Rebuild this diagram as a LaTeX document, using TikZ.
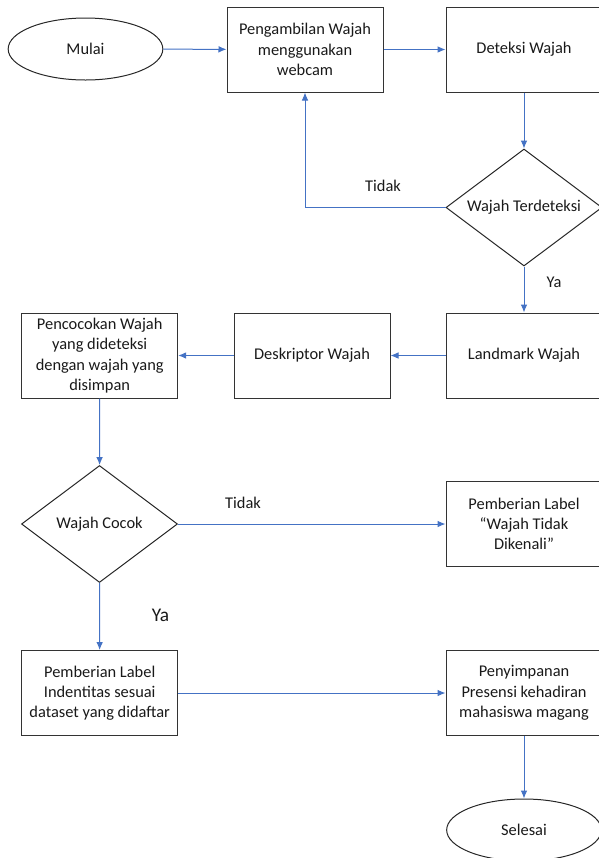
\documentclass[tikz,border=0pt]{standalone}
\usepackage{fontspec}
\setmainfont{Carlito}
\usepackage{tikz}
\usetikzlibrary{arrows.meta,shapes.geometric,positioning}

\begin{document}
\begin{tikzpicture}
	[x=0.75pt,y=-0.75pt,
	every node/.style={font=\fontsize{12.3}{15.2}\selectfont,text=black!90},
	terminal/.style={ellipse,draw=black!85,line width=0.75pt,inner sep=0pt,minimum width=116pt,minimum height=46.5pt},
	process/.style={rectangle,draw=black!80,line width=0.75pt,inner sep=0pt,align=center,minimum width=117pt,minimum height=63.75pt},
	decision/.style={diamond,draw=black!85,line width=0.75pt,inner sep=0pt,aspect=1.33,minimum width=117pt,minimum height=87.75pt},
	flow/.style={draw={rgb,255:red,68;green,114;blue,196},line width=0.75pt,-{Latex[length=6pt,width=5pt]}}]
	\useasboundingbox (0,0) rectangle (599,858);
	% row 1
	\node (mulai) at (85.5,49) [terminal] {Mulai};
	\node (ambil) at (305,49.5) [process] {Pengambilan Wajah\\menggunakan\\webcam};
	\node (deteksi) at (524,49.5) [process] {Deteksi Wajah};
	\node (cek) at (524,207.5) [decision] {Wajah Terdeteksi};
	% row 2
	\node (landmark) at (524,355.5) [process] {Landmark Wajah};
	\node (deskriptor) at (312,355.5) [process] {Deskriptor Wajah};
	\node (cocokkan) at (99.7,355.5) [process] {Pencocokan Wajah\\yang dideteksi\\dengan wajah yang\\disimpan};
	\node (cocok) at (99.5,524) [decision] {Wajah Cocok};
	\node (tolak) at (524,524) [process] {Pemberian Label\\“Wajah Tidak\\Dikenali”};
	% row 3
	\node (identitas) at (99.7,693) [process] {Pemberian Label\\Indentitas sesuai\\dataset yang didaftar};
	\node (simpan) at (524,693) [process] {Penyimpanan\\Presensi kehadiran\\mahasiswa magang};
	\node (selesai) at (524,830) [terminal] {Selesai};
	% labels
	\node (tidakA) at (383,186) {Tidak};
	\node (yaA) at (554,282) {Ya};
	\node (tidakB) at (243,503) {Tidak};
	\node (yaB) at (160.5,615) [font=\fontsize{14.5}{17}\selectfont] {Ya};
	% arrows
	\draw [flow] (mulai) -- (ambil);
	\draw [flow] (ambil) -- (deteksi);
	\draw [flow] (deteksi) -- (cek);
	\draw [flow] (cek.west) -| (ambil.south);
	\draw [flow] (cek) -- (landmark);
	\draw [flow] (landmark) -- (deskriptor);
	\draw [flow] (deskriptor) -- (cocokkan);
	\draw [flow] (cocokkan) -- (cocok);
	\draw [flow] (cocok) -- (tolak);
	\draw [flow] (cocok) -- (identitas);
	\draw [flow] (identitas) -- (simpan);
	\draw [flow] (simpan) -- (selesai);
\end{tikzpicture}
\end{document}
